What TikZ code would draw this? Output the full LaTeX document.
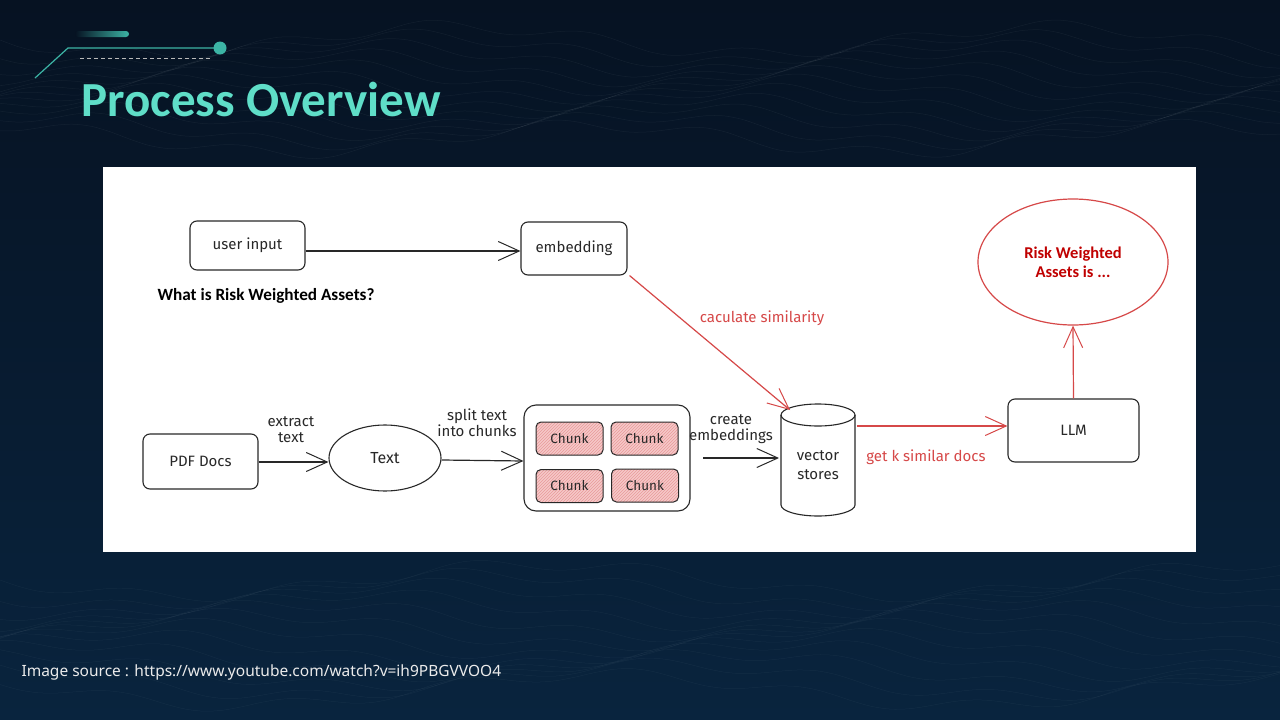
\documentclass[tikz,border=0pt]{standalone}
\usepackage{fontspec}
\setmainfont{Carlito}
\newfontfamily\sketchfont{Fira Sans}
\newfontfamily\footfont{Noto Sans}
\usetikzlibrary{arrows.meta,shapes.geometric,patterns}

\definecolor{bgtop}{RGB}{6,18,34}
\definecolor{bgbot}{RGB}{9,36,62}
\definecolor{teal}{RGB}{95,222,200}
\definecolor{tealdark}{RGB}{60,180,165}
\definecolor{ink}{RGB}{40,40,40}
\definecolor{sketchred}{RGB}{214,72,72}
\definecolor{answerred}{RGB}{192,0,0}
\definecolor{chunkfill}{RGB}{246,200,200}

\tikzset{
  box/.style={draw=ink, line width=1.1pt, rounded corners=7pt, fill=white,
    font=\sketchfont\fontsize{15}{18}\selectfont, text=ink, align=center},
  chunkbox/.style={draw=ink, line width=1pt, rounded corners=5pt,
    minimum width=67pt, minimum height=33pt,
    font=\sketchfont\fontsize{13.5}{15}\selectfont, text=ink},
  flow/.style={draw=ink, line width=1.2pt, -{Straight Barb[length=21pt,width=19pt,line width=1pt]}},
  redflow/.style={draw=sketchred, line width=1.2pt, -{Straight Barb[length=21pt,width=19pt,line width=1pt]}},
  note/.style={font=\sketchfont\fontsize{15}{16}\selectfont, text=ink, align=center},
  rednote/.style={font=\sketchfont\fontsize{15}{16}\selectfont, text=sketchred, align=center},
}

\begin{document}
\begin{tikzpicture}[x=1pt,y=-1pt]
\useasboundingbox (0,0) rectangle (1280,720);

% slide background
\shade[top color=bgtop, bottom color=bgbot] (0,0) rectangle (1280,720);
\foreach \k in {0,...,11}{
  \draw[white, opacity=0.05, line width=0.5pt]
    plot[domain=0:1280, samples=70, smooth] (\x, {40+\k*9 + 14*sin(\x*0.6+\k*25) + 6*sin(\x*2.3+\k*40)});
  \draw[white, opacity=0.04, line width=0.5pt]
    plot[domain=0:1280, samples=70, smooth] (\x, {580+\k*10 + 16*sin(\x*0.5+\k*30) + 6*sin(\x*2.1+\k*35)});
}

% title ornament
\shade[left color=bgtop, right color=tealdark, rounded corners=3pt] (75,31) rectangle (129,37);
\draw[tealdark, line width=1.2pt] (35,78) -- (68,48) -- (215,48);
\fill[tealdark] (220,48) circle (6.5);
\draw[gray!55, line width=0.8pt, dash pattern=on 4pt off 3pt] (80,58) -- (210,58);

\node[anchor=west, text=teal, font=\bfseries\fontsize{49}{56}\selectfont] (title) at (78,99) {Process Overview};

% diagram panel
\fill[white] (103,167) rectangle (1196,552);

% query path
\node[box, minimum width=115pt, minimum height=49pt] (user) at (247.5,245.5) {user input};
\node[box, minimum width=106pt, minimum height=53pt] (embed) at (574,248.5) {embedding};
\node[anchor=west, font=\bfseries\fontsize{17.2}{19}\selectfont, text=black] (question) at (154,296) {What is Risk Weighted Assets?};
\draw[flow] (user.east |- 0,251) -- (embed.west |- 0,251);

% ingestion path
\node[box, minimum width=115pt, minimum height=55pt] (pdf) at (200.5,461.5) {PDF Docs};
\node[draw=ink, line width=1.1pt, ellipse, minimum width=112pt, minimum height=66pt,
      font=\sketchfont\fontsize{16}{18}\selectfont, text=ink] (text) at (385,458) {Text};
\node[box, minimum width=166pt, minimum height=106pt, rounded corners=12pt] (chunks) at (607,458) {};

\foreach \n/\cx/\cy in {c1/569.5/438.5, c2/644.5/438.5, c3/569.5/486, c4/645/485.5}{
  \fill[chunkfill, rounded corners=5pt] (\cx-33.5,\cy-16.5) rectangle (\cx+33.5,\cy+16.5);
  \fill[pattern=north east lines, pattern color=sketchred!55, rounded corners=5pt]
    (\cx-33.5,\cy-16.5) rectangle (\cx+33.5,\cy+16.5);
  \node[chunkbox] (\n) at (\cx,\cy) {Chunk};
}

\draw[flow] (pdf.east |- 0,462) -- (text.west |- 0,462);
\node[note] (extractlbl) at (291,430) {extract\\text};
\draw[flow] (text.east |- 0,460) -- (chunks.west |- 0,461);
\node[note] (splitlbl) at (477,423) {split text\\into chunks};

% vector store cylinder
\draw[ink, line width=1.1pt, fill=white]
  (781,415) -- (781,505) arc[start angle=180, end angle=360, x radius=37, y radius=-11]
  -- (855,415);
\draw[ink, line width=1.1pt] (818,415) ellipse[x radius=37, y radius=11];
\node[note, font=\sketchfont\fontsize{15}{19}\selectfont] (vslbl) at (818,465) {vector\\stores};
\coordinate (vsin) at (779,458);
\coordinate (vstop) at (790,410);
\coordinate (vsout) at (857,426);

\coordinate (embstart) at (703,458);
\draw[flow] (embstart) -- (vsin);
\node[note] (createlbl) at (731,429) {create\\embeddings};

% retrieval and answer
\node[box, minimum width=131pt, minimum height=63pt] (llm) at (1073.5,430.5) {LLM};
\draw[redflow] (embed.south east) ++(2,0) -- (vstop);
\node[rednote] (simlbl) at (762,318) {caculate similarity};
\draw[redflow] (vsout) -- (llm.west |- vsout);
\node[rednote] (getlbl) at (926,457) {get k similar docs};

\node[draw=sketchred, line width=1.2pt, ellipse, minimum width=190pt, minimum height=126pt,
      font=\bfseries\fontsize{16.5}{19}\selectfont, text=answerred, align=center] (answer) at (1073,262)
      {Risk Weighted\\Assets is ...};
\draw[redflow] (llm.north) -- (answer.south);

% footer
\node[anchor=west, text=white!92!black, font=\footfont\fontsize{15.5}{18}\selectfont] (source) at (18,672)
  {Image source : https://www.youtube.com/watch?v=ih9PBGVVOO4};
\end{tikzpicture}
\end{document}
